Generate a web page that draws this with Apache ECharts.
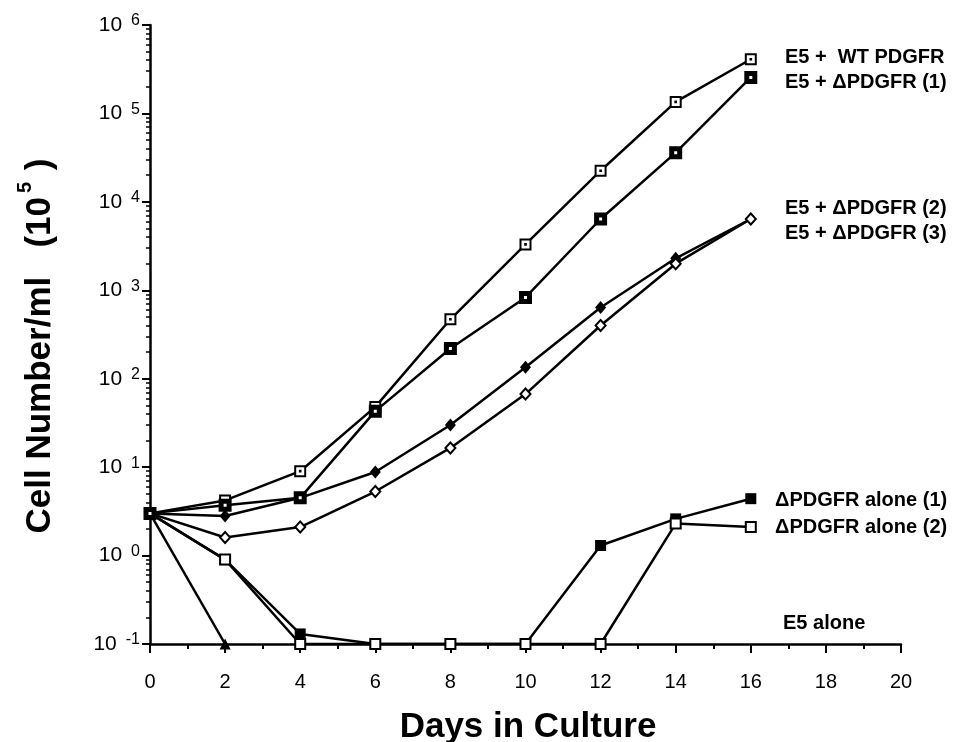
<!DOCTYPE html>
<html>
<head>
<meta charset="utf-8">
<script src="https://cdn.jsdelivr.net/npm/echarts@6/dist/echarts.min.js"></script>
<style>
html, body { margin: 0; padding: 0; background: #fff; }
#chart { width: 958px; height: 742px; }
</style>
</head>
<body>
<div id="chart"></div>
<script>
// days in culture, cell number/ml (x10^5)
const days = [0, 2, 4, 6, 8, 10, 12, 14, 16];
const wt_pdgfr = [3.0, 4.2, 9.0, 48, 470, 3300, 22500, 135000, 410000];
const d_pdgfr_1 = [3.0, 3.7, 4.5, 43, 220, 830, 6400, 36000, 255000];
const d_pdgfr_2 = [3.0, 2.8, 4.5, 8.8, 30, 135, 640, 2300, 6400];
const d_pdgfr_3 = [3.0, 1.6, 2.1, 5.3, 16.5, 67, 400, 2000, 6400];
const alone_1 = [3.0, 0.9, 0.13, 0.1, 0.1, 0.1, 1.3, 2.6, 4.4];
const alone_2 = [3.0, 0.9, 0.1, 0.1, 0.1, 0.1, 0.1, 2.3, 2.1];
const e5_alone = [3.0, 0.1];

const labels = [
    "E5 +  WT PDGFR",
    "E5 + \u0394PDGFR (1)",
    "E5 + \u0394PDGFR (2)",
    "E5 + \u0394PDGFR (3)",
    "\u0394PDGFR alone (1)",
    "\u0394PDGFR alone (2)",
    "E5 alone",
];

const FONT = "'Liberation Sans', Arial, Helvetica, sans-serif";

// square with a small dot in the middle
const dotSquare = "path://M0 0H12V12H0Z M5.6 5.6H6.4V6.4H5.6Z";

function pairs(vals) {
    return vals.map((v, i) => [days[i], v]);
}

function line(name, vals, symbol, size, style) {
    return {
        name: name,
        type: "line",
        data: pairs(vals),
        symbol: symbol,
        symbolSize: size,
        showAllSymbol: true,
        lineStyle: { color: "#000", width: 2.5 },
        itemStyle: Object.assign({ color: "#000", opacity: 1 }, style),
        emphasis: { disabled: true },
        animation: false,
    };
}

const chart = echarts.init(document.getElementById("chart"));

const labelPos = [
    [785, 57], [785, 82], [785, 208], [785, 233],
    [775, 500], [775, 527], [783, 623],
];

chart.setOption({
    backgroundColor: "#fff",
    textStyle: { fontFamily: FONT },
    grid: { left: 150, right: 57, top: 25, bottom: 98 },
    xAxis: {
        type: "value",
        min: 0,
        max: 20,
        interval: 2,
        axisLine: { lineStyle: { color: "#000", width: 2.5 } },
        axisTick: { length: 9, lineStyle: { color: "#000", width: 2 } },
        minorTick: { show: true, splitNumber: 2, length: 5, lineStyle: { color: "#000", width: 2 } },
        splitLine: { show: false },
        axisLabel: { color: "#000", fontSize: 20, margin: 28, fontFamily: FONT },
    },
    yAxis: {
        type: "log",
        logBase: 10,
        min: 0.1,
        max: 1000000,
        splitNumber: 7,
        axisLine: { show: true, lineStyle: { color: "#000", width: 2.5 } },
        axisTick: { show: true, length: 8, lineStyle: { color: "#000", width: 2 } },
        minorTick: { show: true, splitNumber: 9, length: 4, lineStyle: { color: "#000", width: 1.5 } },
        splitLine: { show: false },
        axisLabel: {
            margin: 10,
            formatter: (v) => "{b|10}{s|" + Math.round(Math.log10(v)) + "}",
            rich: {
                b: { fontSize: 21, color: "#000", fontFamily: FONT, lineHeight: 24 },
                s: { fontSize: 16, color: "#000", fontFamily: FONT, verticalAlign: "top", padding: [0, 0, 0, 9], lineHeight: 24 },
            },
        },
    },
    graphic: [
        {
            type: "text",
            x: 40,
            y: 346,
            rotation: Math.PI / 2,
            style: {
                text: "{t|Cell Number/ml   (10}{s|5}{t| )}",
                align: "center",
                verticalAlign: "middle",
                rich: {
                    t: { fontSize: 35, fontWeight: "bold", fill: "#000", fontFamily: FONT, lineHeight: 50 },
                    s: { fontSize: 20, fontWeight: "bold", fill: "#000", fontFamily: FONT, verticalAlign: "top", lineHeight: 50, padding: [0, 2, 0, 4] },
                },
            },
        },
        {
            type: "text",
            x: 528,
            y: 727,
            style: {
                text: "Days in Culture",
                fontSize: 35,
                fontWeight: "bold",
                fill: "#000",
                fontFamily: FONT,
                align: "center",
                verticalAlign: "middle",
            },
        },
    ].concat(labels.map((t, i) => ({
        type: "text",
        x: labelPos[i][0],
        y: labelPos[i][1],
        style: {
            text: t,
            fontSize: 20,
            fontWeight: "bold",
            fill: "#000",
            fontFamily: FONT,
            align: "left",
            verticalAlign: "middle",
        },
    }))),
    series: [
        line(labels[6], e5_alone, "triangle", 11, {}),
        line(labels[4], alone_1, "rect", 11, {}),
        line(labels[5], alone_2, "rect", 10, { color: "#fff", borderColor: "#000", borderWidth: 2 }),
        line(labels[2], d_pdgfr_2, "diamond", [11, 13], {}),
        line(labels[3], d_pdgfr_3, "diamond", [10, 11], { color: "#fff", borderColor: "#000", borderWidth: 2 }),
        line(labels[0], wt_pdgfr, dotSquare, 10, { color: "#fff", borderColor: "#000", borderWidth: 2 }),
        line(labels[1], d_pdgfr_1, "rect", 8, { color: "#fff", borderColor: "#000", borderWidth: 5 }),
    ],
});
</script>
</body>
</html>
